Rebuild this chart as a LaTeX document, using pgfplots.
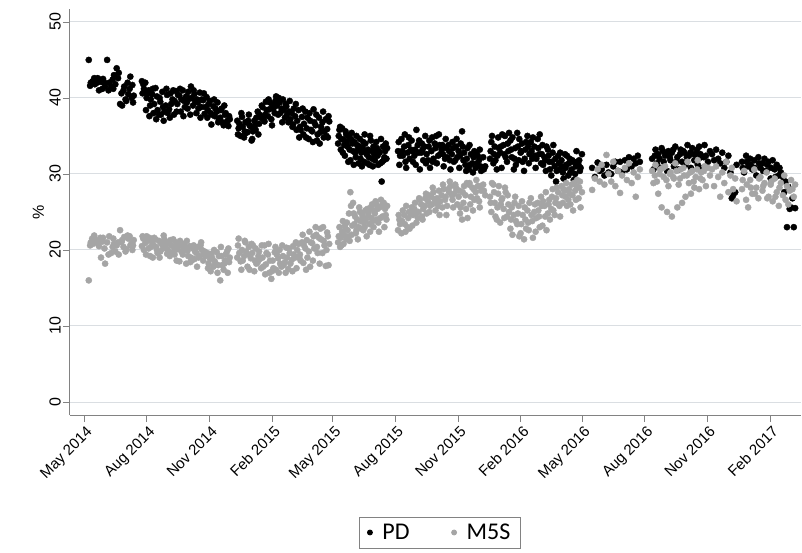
\documentclass[border=0pt]{standalone}
\usepackage{pgfplots}
\pgfplotsset{compat=1.18}
\usepackage{pgfplotstable}
\usepackage{fontspec}
\setmainfont{Liberation Sans}
\newfontfamily\carlito{Carlito}
\definecolor{mfs}{RGB}{165,165,165}
\definecolor{gridc}{RGB}{218,222,226}
\definecolor{axc}{RGB}{130,130,130}

\pgfplotstableread{
d pd m5s
7 45.0 16.0
9 41.6 20.6
10 42.0 21.0
12 42.1 21.5
13 42.2 20.8
15 42.6 21.9
16 41.8 21.4
19 42.0 21.2
20 42.6 20.9
22 41.0 20.5
24 42.4 21.6
25 42.1 19.0
27 41.2 21.1
28 42.5 21.6
30 42.0 20.2
31 41.5 18.2
34 45.0 21.0
36 41.0 19.4
37 42.0 21.8
40 41.5 19.6
42 42.4 20.4
43 41.2 21.5
44 43.0 20.8
46 41.8 19.8
48 43.9 20.6
50 42.6 21.0
51 43.3 19.4
53 39.2 22.6
55 40.6 21.0
56 39.0 21.3
58 41.0 20.4
59 41.5 21.7
61 39.8 19.8
62 39.6 20.1
64 42.0 21.9
65 40.5 21.5
67 41.2 21.8
68 42.8 20.6
70 40.0 20.9
71 41.7 20.0
72 39.4 20.6
73 40.3 21.3
85 42.2 20.5
86 40.6 21.8
87 41.8 21.5
88 41.2 20.0
90 42.0 20.9
91 38.4 19.4
92 40.0 21.8
93 40.6 21.2
95 41.0 20.2
96 37.6 21.6
97 39.0 19.2
98 39.8 20.4
100 40.5 21.0
101 41.2 19.0
102 38.0 20.6
103 39.2 21.6
105 41.3 21.4
106 37.2 20.4
107 40.2 20.0
108 38.4 19.6
110 37.8 21.2
111 40.0 19.0
112 39.5 19.8
113 37.8 20.9
115 40.8 20.7
116 38.8 20.2
117 37.0 21.9
118 38.2 21.4
120 39.0 20.3
121 41.2 21.0
122 40.4 19.5
123 38.0 20.0
125 38.5 20.9
126 37.4 19.2
127 40.6 21.3
128 39.2 20.6
130 39.8 19.7
131 41.0 21.4
132 37.8 20.4
133 39.6 19.4
135 40.9 21.0
136 38.2 18.6
137 39.2 20.1
138 40.4 20.8
140 40.3 18.5
141 41.2 21.2
142 38.2 20.6
143 39.8 19.8
145 41.0 19.4
146 37.6 20.0
147 39.6 20.8
148 38.8 20.4
150 40.2 18.2
151 39.4 21.2
152 38.6 19.9
153 40.8 19.2
155 39.9 20.5
156 37.8 18.4
157 41.5 19.0
158 40.0 18.6
160 39.0 20.2
161 41.0 20.6
162 40.5 18.8
163 39.6 19.8
165 38.0 19.6
166 39.8 17.8
167 39.4 20.4
168 38.6 19.0
170 40.7 19.2
171 37.4 20.6
172 38.8 21.0
173 39.8 20.0
175 39.7 18.6
176 40.6 19.6
177 37.9 19.8
178 38.8 19.2
180 40.1 19.3
181 37.4 19.6
182 38.4 17.6
183 39.2 18.2
185 39.6 18.8
186 38.0 17.2
187 36.5 19.5
188 37.8 19.0
190 38.9 17.8
191 39.8 20.0
192 37.6 18.5
193 38.6 18.2
195 38.2 19.7
196 39.4 17.0
197 36.8 18.0
198 37.2 19.2
200 37.4 16.0
201 38.4 20.4
202 38.6 19.2
203 36.8 18.0
205 36.4 17.4
206 39.0 18.2
207 37.8 18.6
208 38.0 19.4
210 36.9 19.8
211 37.0 17.0
212 36.3 20.2
213 37.6 18.4
214 37.2 19.0
225 37.0 19.0
226 35.2 20.6
227 36.0 21.5
228 36.6 19.6
230 35.0 18.5
231 38.0 17.4
232 37.5 20.0
233 36.2 18.6
235 34.8 19.2
236 35.6 21.2
237 36.8 21.0
238 35.4 19.8
240 35.5 17.8
241 37.0 19.4
242 37.8 20.4
243 36.4 17.4
245 36.2 18.9
246 34.4 20.8
247 34.6 19.6
248 35.6 20.6
250 37.0 17.2
251 36.4 18.6
252 35.8 20.2
253 37.4 18.2
255 38.2 18.4
256 35.2 19.2
257 36.6 19.8
258 37.8 18.8
260 37.4 17.6
261 39.0 20.6
262 38.8 19.0
263 37.2 17.8
265 36.9 20.6
266 37.8 16.8
267 39.5 18.1
268 38.4 19.6
270 37.6 19.4
271 39.8 20.8
272 38.5 17.0
273 39.4 18.6
275 37.2 16.2
276 36.4 17.2
277 39.0 18.6
278 38.6 17.6
280 38.0 19.7
281 39.6 20.4
282 40.2 17.4
283 39.0 19.4
285 37.8 18.9
286 40.0 17.0
287 39.4 20.0
288 38.0 18.2
290 38.6 17.8
291 36.8 20.6
292 39.8 19.2
293 38.4 18.0
295 37.4 18.4
296 39.2 17.0
297 38.9 20.3
298 37.8 19.0
300 36.8 17.5
301 38.2 20.2
302 39.6 19.6
303 37.2 18.2
305 38.0 18.7
306 36.2 17.2
307 36.5 20.5
308 38.6 19.4
310 37.6 19.0
311 39.2 21.0
312 35.8 17.6
313 37.0 20.0
315 38.4 20.8
316 34.8 19.0
317 36.2 19.4
318 35.8 18.6
320 37.5 21.0
321 38.6 22.0
322 35.2 18.3
323 36.6 20.6
325 38.2 20.2
326 34.8 17.4
327 36.0 21.3
328 37.4 19.0
330 34.6 19.8
331 38.0 22.4
332 37.0 17.8
333 35.8 21.0
335 35.6 20.9
336 34.2 18.6
337 38.5 21.8
338 36.8 20.2
340 36.4 23.0
341 37.8 22.0
342 34.4 20.4
343 35.2 19.6
345 37.4 21.6
346 34.0 18.2
347 35.5 22.8
348 36.2 21.4
350 36.8 19.6
351 38.2 23.0
352 34.8 21.2
353 35.6 20.6
355 37.2 17.9
356 35.0 20.0
357 35.9 22.3
358 34.8 21.8
359 37.6 18.0
360 36.9 20.8
373 34.0 21.0
374 35.0 21.8
375 35.8 23.0
376 36.2 20.4
377 33.2 21.6
378 34.6 20.6
379 36.0 22.4
380 32.8 23.8
381 34.5 20.8
382 33.8 22.0
383 32.4 23.2
384 35.6 22.8
385 35.2 21.4
386 34.2 23.6
387 33.6 22.6
388 31.6 21.8
389 34.8 24.8
390 33.2 21.2
391 31.8 27.6
392 34.6 25.8
393 35.4 22.0
394 34.0 23.2
395 33.0 26.2
396 31.2 24.8
397 34.2 23.4
398 32.8 24.4
399 32.2 22.2
400 35.0 22.6
401 33.8 24.0
402 33.2 21.4
403 31.4 23.0
404 33.6 25.6
405 34.6 25.0
406 32.0 23.8
407 32.8 22.8
408 31.0 24.8
409 33.4 24.4
410 34.2 22.6
411 31.6 23.6
412 35.2 23.0
413 34.0 25.2
414 33.0 24.0
415 32.6 21.8
416 31.4 25.4
417 33.2 24.6
418 32.2 25.0
419 31.2 23.4
420 35.0 22.4
421 34.4 25.6
422 33.0 24.2
423 32.0 26.0
424 31.0 23.8
425 33.6 23.0
426 32.6 25.2
427 31.8 24.8
428 33.0 26.4
429 34.2 26.0
430 33.4 24.0
431 32.4 25.4
432 31.2 23.6
433 33.0 22.4
434 32.8 25.6
435 31.4 24.2
436 34.6 26.6
437 29.0 25.8
438 31.6 24.4
439 33.6 26.0
440 31.8 26.2
441 32.2 23.0
442 33.0 25.4
443 34.0 24.6
444 32.0 24.0
445 33.4 25.8
461 33.0 22.6
462 34.2 24.6
463 31.2 24.0
464 32.4 23.4
466 34.6 22.2
467 33.0 23.8
468 32.4 25.2
470 33.6 24.6
471 35.2 23.4
472 31.6 22.4
473 30.8 25.8
475 32.8 23.0
476 33.8 24.2
477 34.8 25.0
478 32.0 22.8
480 33.2 24.8
481 34.4 25.6
482 33.0 23.2
483 31.6 24.6
485 32.4 25.4
486 33.2 26.2
487 31.2 24.8
488 35.8 23.6
490 33.8 24.2
491 32.8 25.0
492 34.4 26.8
493 30.6 26.6
495 32.8 26.0
496 34.0 24.4
497 33.2 24.0
498 31.8 25.4
500 33.6 25.8
501 35.0 26.8
502 31.4 27.4
503 32.6 24.8
505 31.8 26.4
506 33.6 27.2
507 34.4 25.0
508 30.8 25.8
510 33.0 27.0
511 34.8 26.0
512 31.6 28.2
513 32.0 27.6
515 34.0 26.6
516 33.4 25.2
517 35.0 26.2
518 31.4 26.8
520 32.4 25.8
521 35.2 27.8
522 33.8 24.6
523 32.6 26.4
525 33.2 27.2
526 33.8 25.6
527 32.6 28.6
528 31.0 28.0
530 32.0 26.6
531 34.6 27.0
532 33.4 24.6
533 32.2 25.8
535 33.8 28.0
536 33.0 27.6
537 31.8 29.0
538 30.6 28.4
540 32.6 27.2
541 34.2 26.6
542 33.4 25.6
543 31.6 27.4
545 31.8 28.6
546 33.6 28.2
547 34.6 27.8
548 32.2 26.0
550 33.0 27.0
551 30.8 27.8
552 32.4 24.8
553 34.0 25.6
555 35.6 24.0
556 33.6 27.6
557 31.8 26.2
558 32.8 28.4
560 31.2 27.2
561 30.4 25.4
562 32.0 28.8
563 33.4 24.2
565 30.6 28.6
566 33.8 28.8
567 31.2 26.0
568 32.6 27.0
570 31.4 28.2
571 30.2 25.2
572 32.2 28.0
573 33.0 26.6
575 30.8 27.6
576 32.8 29.2
577 31.4 26.8
578 32.4 28.4
580 31.8 26.4
581 33.2 25.6
582 31.0 28.4
583 30.4 27.8
586 32.2 28.6
587 30.6 27.8
589 31.0 27.2
596 32.0 27.0
597 33.0 26.2
598 34.2 25.0
599 35.0 28.8
601 31.4 28.6
602 32.6 27.6
603 33.6 26.2
604 31.8 24.4
606 30.6 24.0
607 32.4 25.6
608 34.8 27.4
609 33.4 28.4
611 32.8 23.6
612 33.6 26.0
613 30.8 26.6
614 35.2 26.8
616 33.8 25.4
617 32.6 24.2
618 35.0 28.2
619 32.2 27.6
621 31.6 24.4
622 34.0 27.2
623 33.0 26.0
624 35.4 25.0
626 34.4 22.8
627 33.2 24.0
628 32.2 25.6
629 34.8 22.0
631 30.6 24.6
632 32.0 26.2
633 33.4 27.0
634 31.2 23.8
636 35.4 23.4
637 33.6 24.8
638 31.8 25.8
639 34.6 21.8
641 32.8 22.2
642 33.0 23.4
643 34.0 26.4
644 31.6 24.6
646 30.4 21.4
647 32.0 25.6
648 33.2 24.0
649 34.2 22.8
651 35.0 25.2
652 33.6 23.6
653 31.4 22.6
654 32.6 26.2
656 34.2 26.8
657 33.0 24.6
658 32.0 23.8
659 34.8 21.6
661 33.6 25.0
662 32.4 26.0
663 30.8 22.4
664 32.0 24.2
666 34.6 26.2
667 33.4 25.2
668 32.6 24.4
669 35.2 23.0
671 31.4 27.0
672 32.6 25.8
673 33.8 23.2
674 31.2 26.4
676 32.2 25.8
677 31.8 24.4
678 30.4 27.6
679 33.6 22.6
681 33.2 24.8
682 32.4 26.0
683 31.6 26.6
684 30.6 24.0
686 29.8 25.4
687 31.6 27.0
688 32.8 28.0
689 33.8 25.2
691 31.0 24.6
692 32.0 26.2
693 29.0 26.8
694 30.4 28.2
696 32.4 27.6
697 31.4 26.0
698 30.6 25.8
699 32.8 24.4
701 31.8 28.4
702 31.0 27.2
703 30.2 26.2
704 29.4 28.0
706 32.6 27.8
707 30.8 27.0
708 31.2 28.8
709 32.4 25.8
711 29.8 26.6
712 31.4 28.0
713 32.0 27.4
714 30.2 26.0
716 30.6 28.6
717 31.8 27.2
718 31.6 25.2
719 29.2 28.8
721 30.0 27.8
722 31.0 26.6
723 33.0 28.4
724 31.6 29.2
726 31.2 26.8
727 31.8 28.2
728 30.4 29.0
729 30.8 25.6
731 32.6 27.6
746 30.8 27.9
750 29.6 29.4
754 31.5 30.6
757 30.4 29.0
760 30.6 31.2
764 29.8 28.6
767 31.2 32.5
770 30.2 30.0
774 30.0 29.0
777 31.0 31.6
780 31.6 28.4
784 30.4 30.4
787 31.6 27.5
790 30.2 29.8
794 31.8 30.8
797 30.6 29.2
800 32.2 31.4
804 31.0 28.8
807 32.0 30.2
810 31.4 27.0
813 32.4 29.6
816 31.6 30.6
834 32.0 30.4
836 30.6 28.8
838 32.4 29.8
839 33.2 31.2
841 31.4 29.0
843 32.6 27.4
845 32.0 30.0
846 30.8 30.6
848 33.4 25.6
850 33.0 30.8
851 31.6 29.6
853 32.4 31.0
855 32.6 29.2
856 30.4 25.0
858 33.0 28.4
860 32.2 30.0
861 31.8 30.2
863 32.8 24.4
865 33.2 29.6
866 31.0 29.4
868 33.6 31.4
870 31.6 30.4
871 32.2 25.6
873 30.6 28.6
875 32.6 29.4
876 33.2 30.6
878 31.6 26.2
880 33.0 30.8
881 32.8 29.8
883 31.2 27.0
885 32.2 29.8
886 33.8 31.6
888 32.4 28.8
890 32.8 30.2
891 30.8 27.4
893 33.4 30.4
895 32.6 29.0
896 31.8 28.2
898 32.6 29.6
900 33.2 30.6
901 31.2 31.8
903 33.6 28.0
905 32.6 29.4
906 32.2 30.2
908 30.8 29.2
910 32.2 30.4
911 33.8 31.0
913 32.4 28.4
916 31.6 30.8
919 33.0 29.8
922 32.6 30.6
925 31.8 28.4
928 33.2 31.0
931 32.0 29.6
934 31.4 27.0
937 32.8 30.2
940 30.8 28.8
943 31.6 31.6
946 32.4 27.6
949 30.2 29.8
951 26.8 30.8
953 27.2 28.0
956 27.6 29.4
958 31.2 26.4
966 31.6 28.0
967 30.8 29.2
969 30.2 30.4
972 32.4 26.6
973 31.6 28.6
975 31.0 25.6
978 32.0 29.2
979 31.2 28.2
981 30.6 27.4
984 31.8 30.6
985 30.8 27.4
987 29.8 28.2
990 32.2 26.8
991 31.4 29.4
993 30.8 29.6
996 31.4 27.8
997 30.4 28.4
999 32.0 28.8
1002 30.4 30.2
1003 31.2 26.8
1005 31.6 27.0
1008 29.4 28.6
1009 30.8 29.0
1011 31.8 26.4
1014 30.6 29.4
1015 29.6 27.0
1017 31.2 27.6
1020 29.8 25.8
1021 30.8 28.2
1023 30.2 28.8
1026 29.6 27.2
1028 27.6 29.8
1030 29.0 26.6
1032 23.0 28.4
1034 28.3 26.0
1036 25.4 27.8
1038 25.6 29.2
1040 26.8 28.0
1042 23.0 27.0
1044 25.5 28.6
}\polls

\begin{document}
\begin{tikzpicture}
\begin{axis}[
  name=ax,
  at={(0,0)}, anchor=south west,
  scale only axis,
  width=731pt, height=406pt,
  xmin=-20.55, xmax=1052.6,
  ymin=-1.71, ymax=51.7,
  axis x line*=bottom, axis y line*=left,
  axis line style={axc, line width=1pt, -},
  xtick={0,92,184,276,365,457,549,641,731,823,915,1007},
  xticklabels={May 2014,Aug 2014,Nov 2014,Feb 2015,May 2015,Aug 2015,Nov 2015,Feb 2016,May 2016,Aug 2016,Nov 2016,Feb 2017},
  ytick={0,10,20,30,40,50},
  /pgf/number format/assume math mode=true,
  tick align=outside,
  major tick length=7pt,
  tick style={axc, line width=0.8pt},
  ymajorgrids,
  grid style={gridc, line width=1pt},
  xticklabel style={rotate=45, anchor=north east, font=\fontsize{15}{17}\selectfont, inner sep=1pt, yshift=-2pt},
  yticklabel style={rotate=90, anchor=south, font=\fontsize{16}{18}\selectfont, inner sep=2pt},
  ylabel={\%},
  ylabel style={font=\fontsize{16}{18}\selectfont, at={(ticklabel cs:0.5)}, anchor=south, xshift=0pt},
  legend style={at={(0.506,-0.2894)}, anchor=center, draw=axc, line width=0.8pt,
    font=\carlito\fontsize{24}{26}\selectfont, legend columns=2,
    inner xsep=8pt, inner ysep=5pt,
    /tikz/every odd column/.append style={column sep=8pt},
    /tikz/every even column/.append style={column sep=40pt}},
  legend image post style={mark size=2.5pt},
  legend cell align=left,
]
\addplot[only marks, mark=*, mark size=3.1pt, color=black, mark options={draw=none, fill=black}] table[x=d, y=pd]{\polls};
\addlegendentry{PD}
\addplot[only marks, mark=*, mark size=3.1pt, color=mfs, mark options={draw=none, fill=mfs}] table[x=d, y=m5s]{\polls};
\addlegendentry{M5S}
\end{axis}
\pgfresetboundingbox
\path ([shift={(-70pt,-138pt)}]ax.south west) rectangle ([shift={(732pt,415pt)}]ax.south west);
\end{tikzpicture}
\end{document}
